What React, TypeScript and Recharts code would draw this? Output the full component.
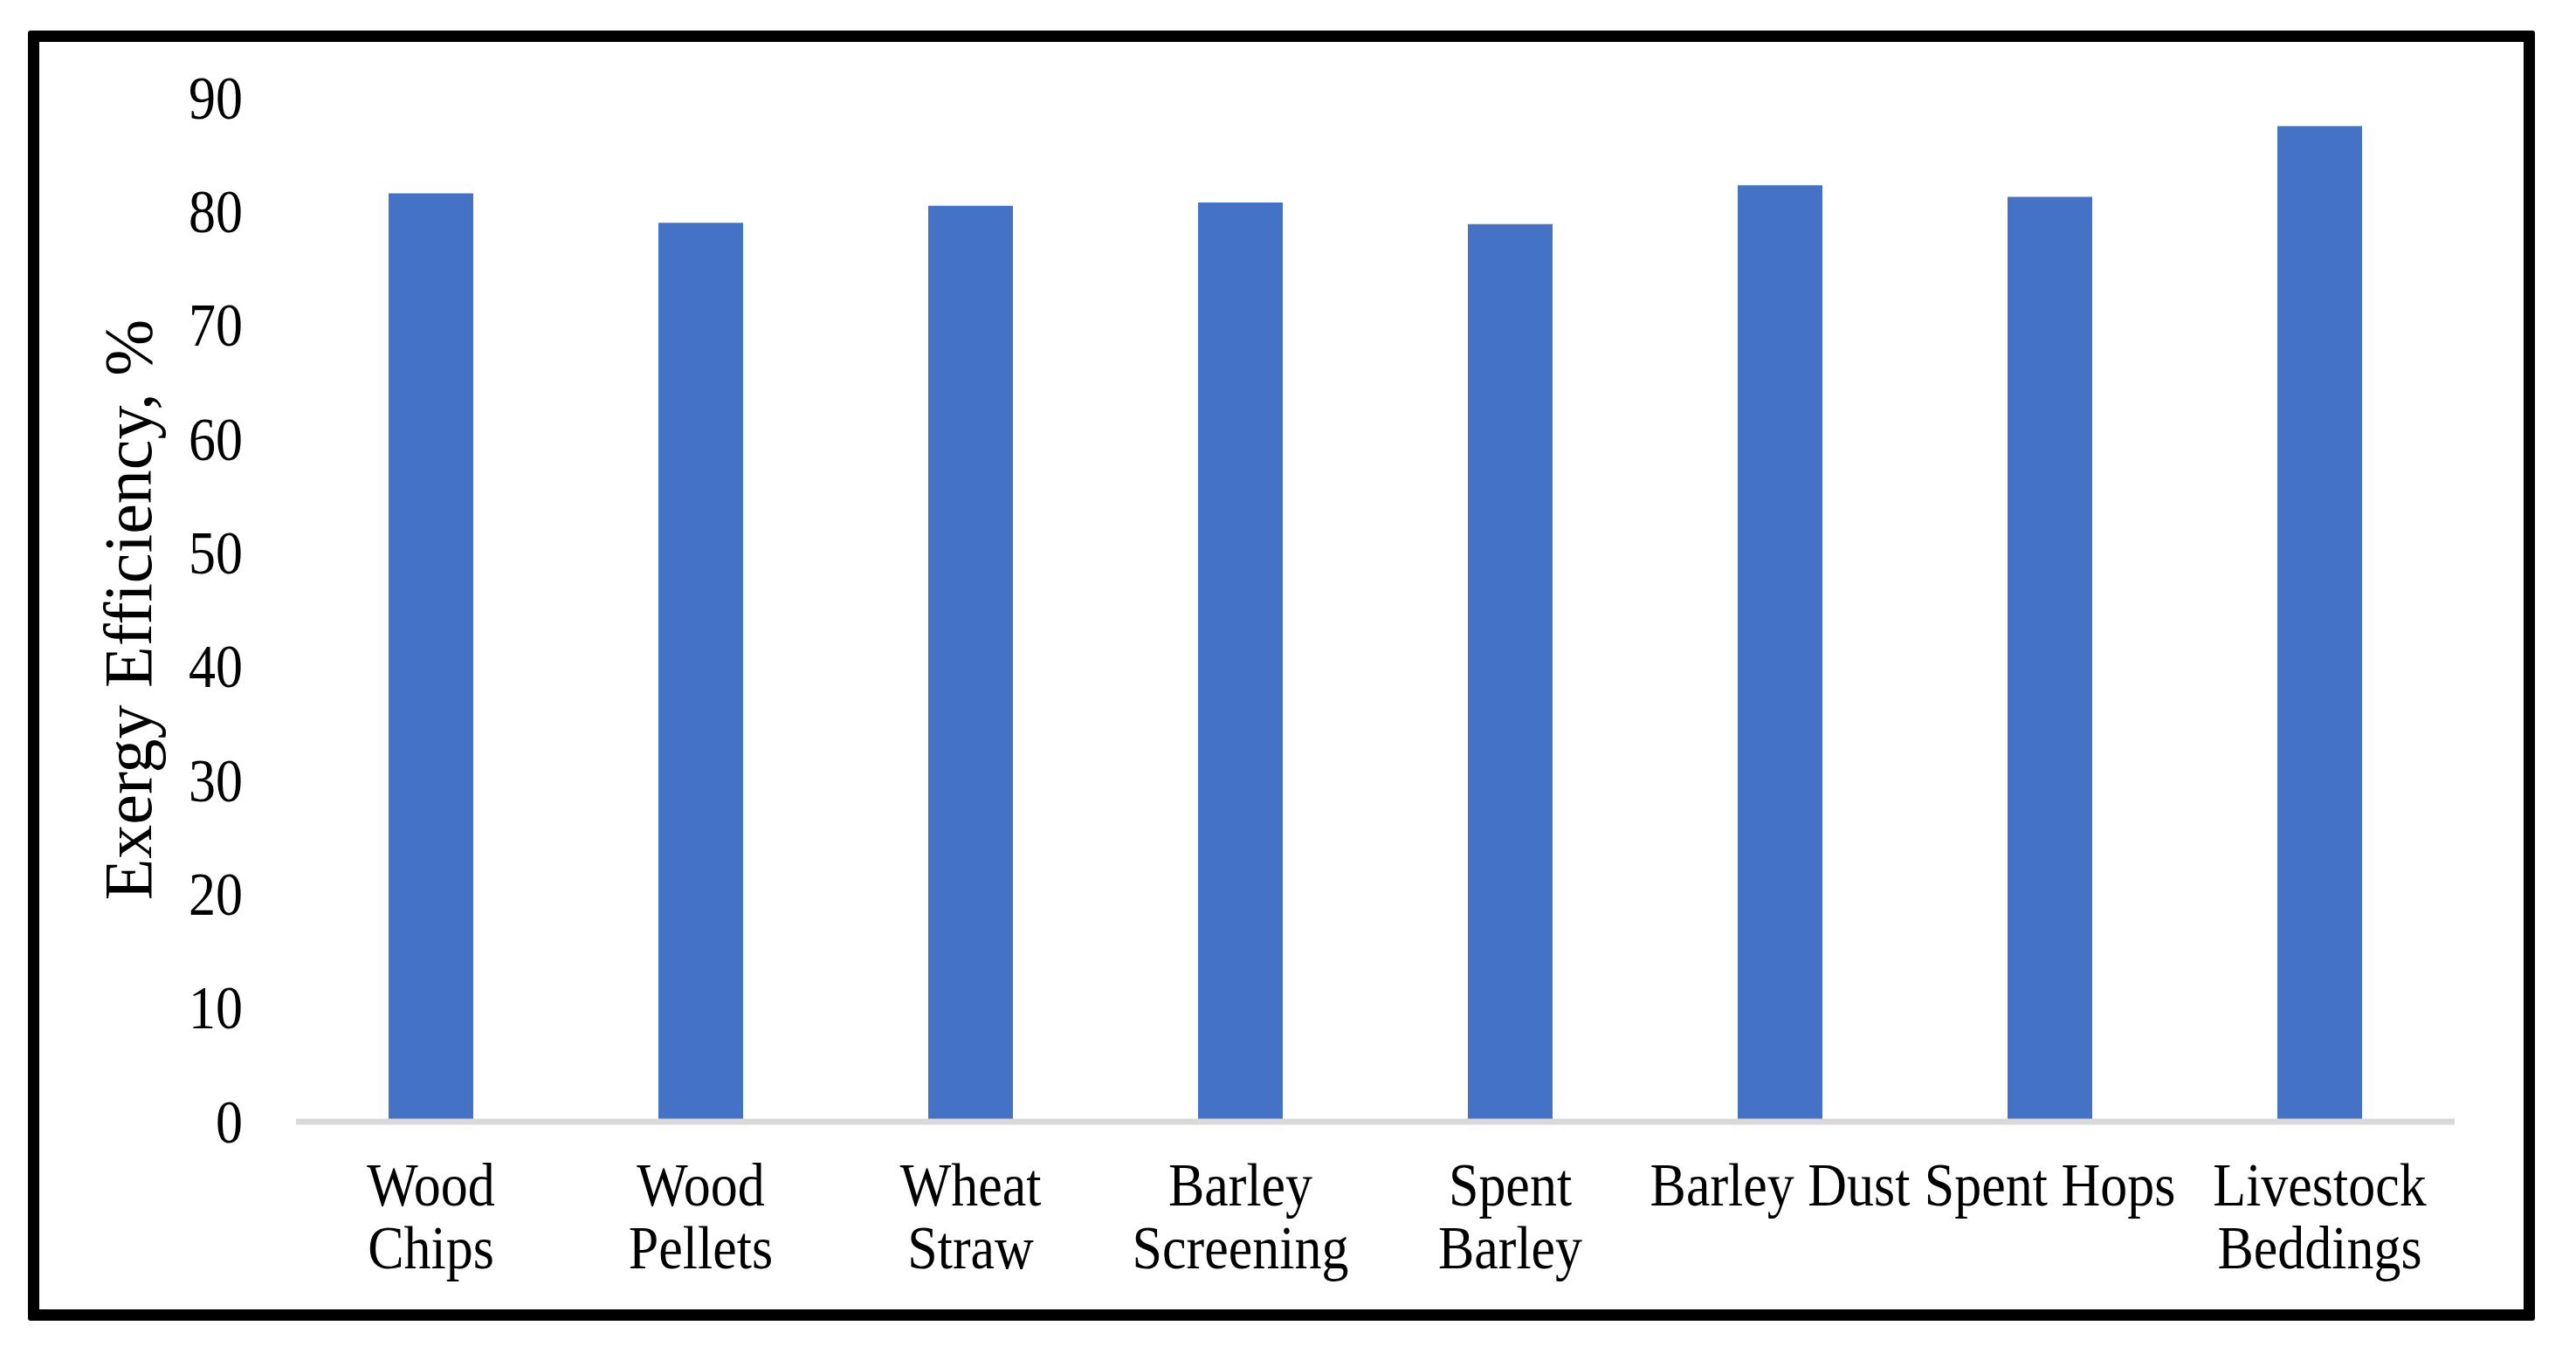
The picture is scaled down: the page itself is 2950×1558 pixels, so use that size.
import React from 'react'
import { BarChart, Bar, XAxis, YAxis } from 'recharts'

const categories = [
  'Wood Chips', 'Wood Pellets', 'Wheat Straw', 'Barley Screening',
  'Spent Barley', 'Barley Dust', 'Spent Hops', 'Livestock Beddings',
]
const tickLines = [
  ['Wood', 'Chips'], ['Wood', 'Pellets'], ['Wheat', 'Straw'], ['Barley', 'Screening'],
  ['Spent', 'Barley'], ['Barley Dust'], ['Spent Hops'], ['Livestock', 'Beddings'],
]
const exergy = [81.6, 79.0, 80.5, 80.8, 78.9, 82.3, 81.3, 87.5]
const yTicks = [0, 10, 20, 30, 40, 50, 60, 70, 80, 90]

const rows = categories.map((name, i) => ({ name, value: exergy[i] }))

const FONT = '"Liberation Serif", "Times New Roman", serif'
// the source image is slightly stretched vertically, so text is too
const STRETCH = 1.12

function XTick({ x, y, index }: any) {
  const lines = tickLines[index] ?? []
  return (
    <g transform={`translate(${x},${y}) scale(1,${STRETCH})`}>
      {lines.map((l, i) => (
        <text key={i} x={0} y={(96 + i * 72) / STRETCH} textAnchor="middle" fontSize={62} fontFamily={FONT} fill="#000">
          {l}
        </text>
      ))}
    </g>
  )
}

function YTick({ x, y, payload }: any) {
  return (
    <g transform={`translate(${x},${y}) scale(1,${STRETCH})`}>
      <text x={0} y={0} dy="0.34em" textAnchor="end" fontSize={62} fontFamily={FONT} fill="#000">
        {payload.value}
      </text>
    </g>
  )
}

function YTitle({ viewBox }: any) {
  const cx = 146
  const cy = viewBox.y + viewBox.height / 2
  return (
    <text x={cx} y={cy} transform={`rotate(-90 ${cx} ${cy})`} textAnchor="middle"
      dominantBaseline="central" fontSize={78} fontFamily={FONT} fill="#000">
      Exergy Efficiency, %
    </text>
  )
}

export default function App() {
  return (
    <div style={{ position: 'absolute', left: 0, top: 0, width: 2950, height: 1558, background: '#fff' }}>
      <div style={{
        position: 'absolute', left: 32, top: 35, width: 2871, height: 1478,
        border: '13px solid #000', boxSizing: 'border-box', borderRadius: 3,
      }} />
      <BarChart width={2950} height={1558} data={rows}
        margin={{ top: 112, right: 139, bottom: 73, left: 139 }}>
        <XAxis dataKey="name" interval={0} height={200} tickLine={false} tickSize={0} tickMargin={0}
          axisLine={{ stroke: '#d9d9d9', strokeWidth: 7 }} tick={<XTick />} />
        <YAxis width={200} domain={[0, 90]} ticks={yTicks} axisLine={false} tickLine={false}
          tickSize={6} tickMargin={55} tick={<YTick />}
          label={{ content: (p: any) => <YTitle {...p} /> }} />
        <Bar dataKey="value" fill="#4472C4" barSize={97} isAnimationActive={false} />
      </BarChart>
    </div>
  )
}
